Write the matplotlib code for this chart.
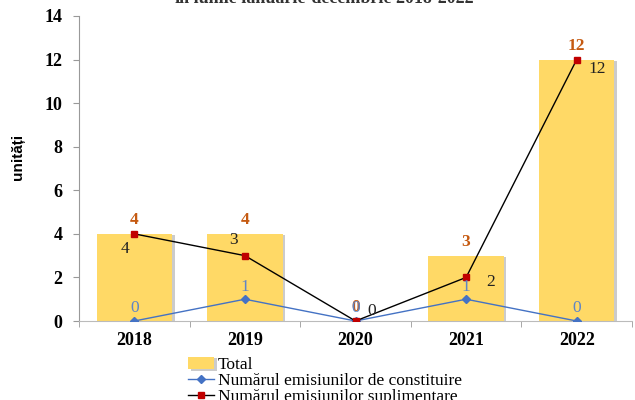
import numpy as np
import matplotlib
matplotlib.use('Agg')
import matplotlib.pyplot as plt
import matplotlib.patheffects as pe

ani = ['2018', '2019', '2020', '2021', '2022']
total = [4, 4, 0, 3, 12]
constituire = [0, 1, 0, 1, 0]
suplimentare = [4, 3, 0, 2, 12]

plt.rcParams['font.family'] = ['Liberation Serif', 'DejaVu Serif']

fig = plt.figure(figsize=(6.35, 4.0), dpi=100)
ax = fig.add_axes([79/635, 1-321/400, 553/635, 305/400])

x = np.arange(len(ani))
# bare cu umbra
bars = ax.bar(x, total, width=0.68, color='#FFD966', zorder=2,
              path_effects=[pe.SimplePatchShadow(offset=(2, -1), shadow_rgbFace='#999999', alpha=0.5), pe.Normal()],
              label='Total')
l1, = ax.plot(x, constituire, color='#4472C4', lw=1, marker='D', ms=4, zorder=3,
              label='Numărul emisiunilor de constituire')
l2, = ax.plot(x, suplimentare, color='black', lw=1, marker='s', ms=4.5, mfc='#C00000', mec='#C00000',
              zorder=4, label='Numărul emisiunilor suplimentare')

# etichete
for i in range(len(ani)):
    ax.annotate(str(total[i]), (x[i], total[i]), xytext=(0, 10), textcoords='offset points',
                ha='center', va='center', color='#C55A11', fontsize=12.5, fontweight='bold', zorder=5)
    ax.annotate(str(constituire[i]), (x[i], constituire[i]), xytext=(0, 9), textcoords='offset points',
                ha='center', va='center', color='#5F85C6', fontsize=12.5, zorder=5)
sup_off = [(-7, -11), (-8, 11), (12, 7), (18, -3), (15, -7)]
for i in range(len(ani)):
    dx, dy = sup_off[i]
    ax.annotate(str(suplimentare[i]), (x[i], suplimentare[i]), xytext=(dx, dy), textcoords='offset points',
                ha='center', va='center', color='#222222', fontsize=12.5, zorder=5)

ax.set_xlim(-0.5, len(ani) - 0.5)
ax.set_ylim(0, 14)
ax.set_yticks(range(0, 15, 2))
ax.set_xticks(x)
ax.set_xticklabels(ani, fontsize=13, fontweight='bold')
ax.set_xticks(np.arange(-0.5, len(ani), 1), minor=True)
ax.tick_params(axis='x', which='major', length=0, pad=8)
ax.tick_params(axis='x', which='minor', length=4, color='#999999', direction='out')
ax.tick_params(axis='y', length=4, color='#999999', labelsize=13, pad=8)
for t in ax.get_yticklabels():
    t.set_fontweight('bold')
for s in ['top', 'right']:
    ax.spines[s].set_visible(False)
ax.spines['left'].set_color('#999999')
ax.spines['bottom'].set_color('#bbbbbb')

fig.text(18/635, 1-157/400, 'unități', rotation=90, ha='center', va='center',
         fontsize=11, fontweight='bold', family=['Liberation Sans', 'DejaVu Sans'])

fig.text(0.51, 1.004, 'în lunile ianuarie-decembrie 2018-2022', ha='center', va='center',
         fontsize=13, fontweight='bold', color='#333333')

fig.legend(handles=[bars, l1, l2], loc='upper left', bbox_to_anchor=(188/635, 1-357/400), frameon=False,
           fontsize=12.5, handlelength=1.5, handletextpad=0.2, labelspacing=0.0,
           borderaxespad=0, borderpad=0)

fig.savefig('out.png', dpi=100)
